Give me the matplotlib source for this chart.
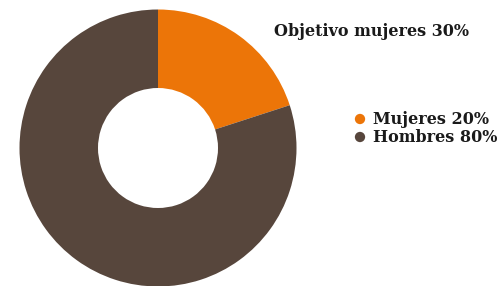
import matplotlib
matplotlib.use("Agg")
import matplotlib.pyplot as plt

labels = ["Mujeres 20%", "Hombres 80%"]
values = [20, 80]
colors = ["#EC7508", "#57463C"]
title_text = "Objetivo mujeres 30%"

fig = plt.figure(figsize=(5, 2.86), dpi=100)
ax = fig.add_axes([0, 0, 1, 1])

ax.pie(values, colors=colors, startangle=90, counterclock=False,
       center=(158, 138), radius=138.5,
       wedgeprops=dict(width=78.5, edgecolor="none"), frame=True)
ax.set_xlim(0, 500)
ax.set_ylim(0, 286)
ax.set_aspect("equal")
ax.axis("off")

font = dict(family="DejaVu Serif", weight="bold", size=11.5, color="#1a1a1a")
ax.text(274, 254, title_text, ha="left", va="center", **font)

ys = [167, 149]
for lab, col, y in zip(labels, colors, ys):
    ax.scatter([360], [y], s=55, color=col, edgecolors="none")
    ax.text(373, y, lab, ha="left", va="center", **font)

fig.savefig("out.png", dpi=100)
